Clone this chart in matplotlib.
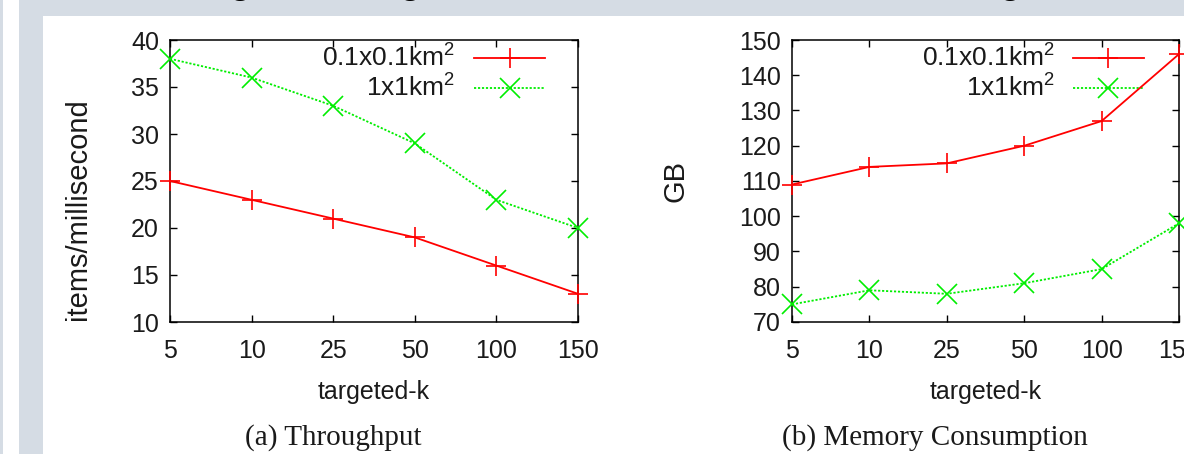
import matplotlib
matplotlib.use("Agg")
import matplotlib.pyplot as plt
from matplotlib.lines import Line2D
from matplotlib.patches import Rectangle

plt.rcParams["font.family"] = ["Liberation Sans", "DejaVu Sans"]
plt.rcParams["mathtext.fontset"] = "custom"
plt.rcParams["mathtext.rm"] = "Liberation Sans"
plt.rcParams["mathtext.it"] = "Liberation Sans"

# data
k_labels = ["5", "10", "25", "50", "100", "150"]
throughput_small = [25, 23, 21, 19, 16, 13]
throughput_large = [38, 36, 33, 29, 23, 20]
memory_small = [109, 114, 115, 120, 127, 146]
memory_large = [75, 79, 78, 81, 85, 98]
series_names = ["0.1x0.1km$^2$", "1x1km$^2$"]

RED = "#ff0000"
GREEN = "#00ee00"
FRAME = "#d5dce4"
TEXT = "#1a1a1a"
DOTS = (0, (1.2, 1.0))

W, H = 1184, 454
fig = plt.figure(figsize=(W / 100, H / 100), dpi=100)
fig.patch.set_facecolor("white")

# screenshot frame around the page
for x0, y0, w, h in [(0, 0, 3, H), (19, 0, 24, H), (43, H - 16, W - 43, 16)]:
    fig.add_artist(Rectangle((x0 / W, y0 / H), w / W, h / H, transform=fig.transFigure,
                             facecolor=FRAME, edgecolor="none", zorder=0))
# tails of the page heading, cut off by the screenshot
for gx in (240, 410, 1010):
    fig.text(gx / W, 1 + 8 / H, "g", fontsize=30, ha="center", va="baseline", color="black")


def px_box(left, top, right, bottom):
    return [left / W, 1 - bottom / H, (right - left) / W, (bottom - top) / H]


def draw_panel(box, small, large, ylim, yticks, ylabel, ylabel_xy, legend_x):
    ax = fig.add_axes(box)
    xs = list(range(len(k_labels)))
    ax.plot(xs, small, color=RED, lw=1.3, marker="+", ms=15, mew=1.2, clip_on=False, zorder=3)
    ax.plot(xs, large, color=GREEN, lw=1.3, ls=DOTS, marker="x", ms=14, mew=1.2,
            clip_on=False, zorder=3)
    ax.set_xlim(0, len(k_labels) - 1)
    ax.set_ylim(*ylim)
    ax.set_xticks(xs, k_labels)
    ax.set_yticks(yticks)
    ax.tick_params(direction="in", length=5, width=1.0, top=True, right=True,
                   labelsize=18, colors="black", labelcolor=TEXT)
    ax.tick_params(axis="x", pad=12)
    ax.tick_params(axis="y", pad=8)
    for spine in ax.spines.values():
        spine.set_linewidth(1.1)
    ax.set_xlabel("targeted-k", fontsize=18, color=TEXT)
    ax.xaxis.set_label_coords(0.5, -0.25)
    ax.xaxis.label.set_va("center")
    ax.set_ylabel(ylabel, fontsize=21, color=TEXT)
    ax.yaxis.set_label_coords(*ylabel_xy)
    ax.yaxis.label.set_va("center")

    # legend, gnuplot style: right aligned text, sample to the right
    text_x, line_x0, line_x1 = legend_x
    for row, (name, color, style, marker, ms) in enumerate([
        (series_names[0], RED, "-", "+", 15),
        (series_names[1], GREEN, DOTS, "x", 14),
    ]):
        y = 0.935 - row * 0.105
        ax.text(text_x, y, name, transform=ax.transAxes, ha="right", va="center",
                fontsize=19, color=TEXT)
        ax.add_line(Line2D([line_x0, line_x1], [y, y], transform=ax.transAxes, color=color,
                           lw=1.3, ls=style, clip_on=False))
        ax.add_line(Line2D([(line_x0 + line_x1) / 2], [y], transform=ax.transAxes, color=color,
                           marker=marker, ms=ms, mew=1.2, ls="none", clip_on=False))
    return ax


draw_panel(px_box(170, 40, 578, 322), throughput_small, throughput_large, (10, 40),
           range(10, 41, 5), "items/millisecond", (-0.225, 0.40), (0.70, 0.745, 0.92))
draw_panel(px_box(792, 40, 1179, 322), memory_small, memory_large, (70, 150),
           range(70, 151, 10), "GB", (-0.30, 0.50), (0.68, 0.725, 0.91))

fig.text(333 / W, 1 - 438 / H, "(a) Throughput", family="Liberation Serif", fontsize=21,
         ha="center", va="center", color=TEXT)
fig.text(935 / W, 1 - 438 / H, "(b) Memory Consumption", family="Liberation Serif",
         fontsize=21, ha="center", va="center", color=TEXT)

fig.savefig("out.png", dpi=100)
